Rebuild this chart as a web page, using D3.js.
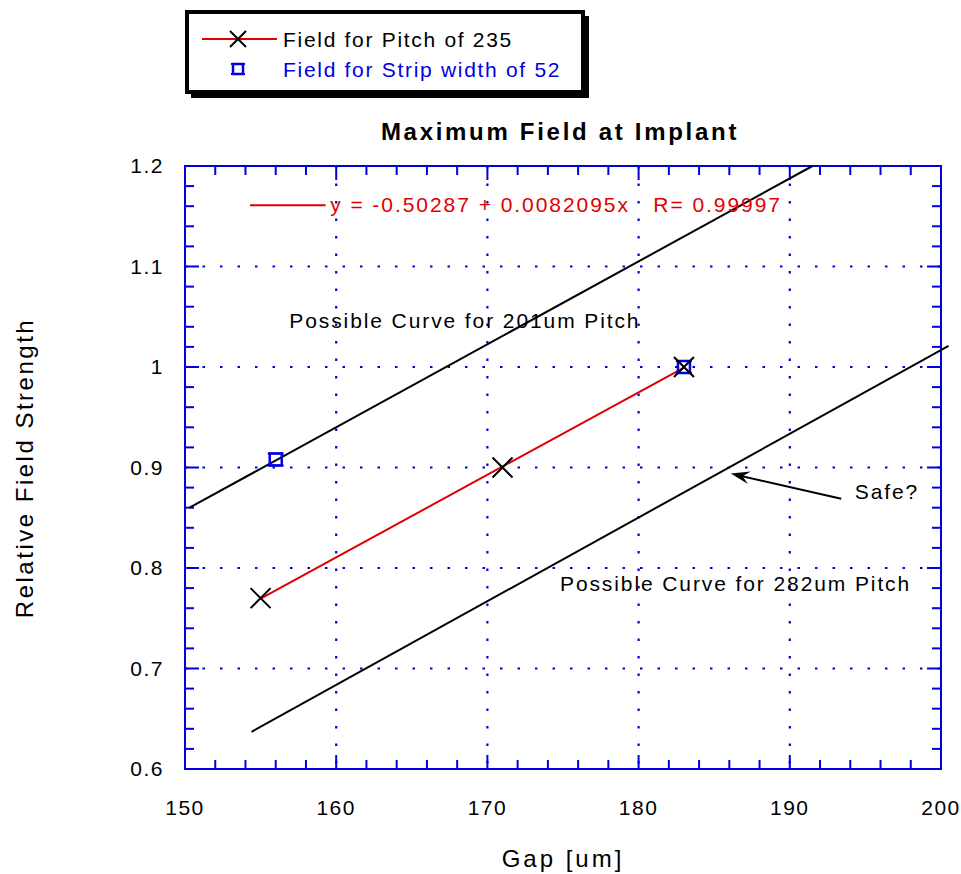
<!DOCTYPE html>
<html>
<head>
<meta charset="utf-8">
<script src="https://cdn.jsdelivr.net/npm/d3@7"></script>
<style>
  body { margin: 0; background: #fff; }
  text { font-family: "Liberation Sans", Arial, sans-serif; }
</style>
</head>
<body>
<div id="chart"></div>
<script>
// data
var pitchGap   = [155, 171, 183]
var pitchField = [0.77, 0.90, 1.00]
var stripGap   = [156, 183]
var stripField = [0.908, 1.00]
var fitIntercept = -0.50287
var fitSlope     = 0.0082095
var fitRange     = [155, 183]
var curve201 = [[150.3, 0.86], [191.5, 1.2]]
var curve282 = [[154.4, 0.637], [200.5, 1.021]]
var xTicks = [150, 160, 170, 180, 190, 200]
var yTicks = [0.6, 0.7, 0.8, 0.9, 1, 1.1, 1.2]

var W = 961, H = 874
var pL = 185, pR = 941, pT = 166, pB = 769

var svg = d3.select('#chart').append('svg').attr('width', W).attr('height', H)

var x = d3.scaleLinear().domain([150, 200]).range([pL, pR])
var y = d3.scaleLinear().domain([0.6, 1.2]).range([pB, pT])

var blue = '#0000e0'
var fs = 21

// grid
svg.append('g').selectAll('line').data(xTicks.slice(1, -1)).join('line')
    .attr('x1', d => x(d)).attr('x2', d => x(d)).attr('y1', pT).attr('y2', pB)
    .attr('stroke', blue).attr('stroke-width', 2.2).attr('stroke-dasharray', '2.5,15')
svg.append('g').selectAll('line').data(yTicks.slice(1, -1)).join('line')
    .attr('y1', d => y(d)).attr('y2', d => y(d)).attr('x1', pL).attr('x2', pR)
    .attr('stroke', blue).attr('stroke-width', 2.2).attr('stroke-dasharray', '2.5,15')

// frame + inward ticks on all sides
var xMinor = d3.range(150, 200.01, 2)
var yMinor = d3.range(0.6, 1.2001, 0.02)
var axes = svg.append('g').attr('stroke', blue).attr('stroke-width', 2)
axes.append('rect').attr('x', pL).attr('y', pT).attr('width', pR - pL).attr('height', pB - pT)
    .attr('fill', 'none')
xMinor.forEach(function(v) {
    var major = Math.abs(v % 10) < 1e-6
    var len = major ? 14 : 9
    axes.append('line').attr('x1', x(v)).attr('x2', x(v)).attr('y1', pB).attr('y2', pB - len)
    axes.append('line').attr('x1', x(v)).attr('x2', x(v)).attr('y1', pT).attr('y2', pT + len)
})
yMinor.forEach(function(v) {
    var major = Math.abs(Math.round(v * 10) - v * 10) < 1e-6
    var len = major ? 14 : 9
    axes.append('line').attr('y1', y(v)).attr('y2', y(v)).attr('x1', pL).attr('x2', pL + len)
    axes.append('line').attr('y1', y(v)).attr('y2', y(v)).attr('x1', pR).attr('x2', pR - len)
})

// tick labels
svg.append('g').selectAll('text').data(xTicks).join('text')
    .attr('x', d => x(d)).attr('y', 815).attr('text-anchor', 'middle')
    .attr('font-size', fs).attr('letter-spacing', 1.5).text(d => d)
svg.append('g').selectAll('text').data(yTicks).join('text')
    .attr('x', 164).attr('y', d => y(d) + 7).attr('text-anchor', 'end')
    .attr('font-size', fs).attr('letter-spacing', 1.5).text(d => d)

// axis titles
svg.append('text').attr('x', 563).attr('y', 867).attr('text-anchor', 'middle')
    .attr('font-size', 24).attr('letter-spacing', 3).text('Gap [um]')
svg.append('text').attr('transform', 'translate(33,468) rotate(-90)').attr('text-anchor', 'middle')
    .attr('font-size', 24).attr('letter-spacing', 2.5).text('Relative Field Strength')
svg.append('text').attr('x', 560).attr('y', 140).attr('text-anchor', 'middle')
    .attr('font-size', 24).attr('font-weight', 'bold').attr('letter-spacing', 2.7)
    .text('Maximum Field at Implant')

// possible curves
var line = d3.line().x(d => x(d[0])).y(d => y(d[1]))
svg.append('path').attr('d', line(curve201)).attr('stroke', '#000').attr('stroke-width', 2).attr('fill', 'none')
svg.append('path').attr('d', line(curve282)).attr('stroke', '#000').attr('stroke-width', 2).attr('fill', 'none')

// fit line
var fitPts = fitRange.map(g => [g, fitIntercept + fitSlope * g])
svg.append('path').attr('d', line(fitPts)).attr('stroke', '#e00000').attr('stroke-width', 2).attr('fill', 'none')

// markers
function cross(g, cx, cy, s) {
    g.append('path').attr('d', `M${cx-s},${cy-s}L${cx+s},${cy+s}M${cx-s},${cy+s}L${cx+s},${cy-s}`)
        .attr('stroke', '#000').attr('stroke-width', 2).attr('fill', 'none')
}
function square(g, cx, cy, s) {
    g.append('rect').attr('x', cx - s).attr('y', cy - s).attr('width', 2 * s).attr('height', 2 * s)
        .attr('stroke', blue).attr('stroke-width', 2.5).attr('fill', 'none')
    g.append('path').attr('d', `M${cx-s-2},${cy-s}H${cx+s+2}M${cx-s-2},${cy+s}H${cx+s+2}`)
        .attr('stroke', blue).attr('stroke-width', 2)
}
var mk = svg.append('g')
stripGap.forEach((g, i) => square(mk, x(g), y(stripField[i]), 6))
pitchGap.forEach((g, i) => cross(mk, x(g), y(pitchField[i]), 10))

// equation label
svg.append('path').attr('d', line([[154.3, 1.161], [159.3, 1.161]])).attr('stroke', '#e00000').attr('stroke-width', 2)
svg.append('text').attr('x', x(159.6)).attr('y', y(1.161) + 7).attr('fill', '#e00000')
    .attr('font-size', fs).attr('letter-spacing', 1.95).attr('xml:space', 'preserve')
    .text('y = -0.50287 + 0.0082095x   R= 0.99997')

// annotations
svg.append('text').attr('x', x(156.9)).attr('y', y(1.046) + 7)
    .attr('font-size', fs).attr('letter-spacing', 1.9).text('Possible Curve for 201um Pitch')
svg.append('text').attr('x', x(174.8)).attr('y', y(0.784) + 7)
    .attr('font-size', fs).attr('letter-spacing', 1.9).text('Possible Curve for 282um Pitch')
svg.append('text').attr('x', x(194.3)).attr('y', y(0.876) + 7)
    .attr('font-size', fs).attr('letter-spacing', 1.9).text('Safe?')

// arrow
var ax0 = x(193.4), ay0 = y(0.869), ax1 = x(186.1), ay1 = y(0.894)
svg.append('line').attr('x1', ax0).attr('y1', ay0).attr('x2', ax1 + 8).attr('y2', ay1 + 2)
    .attr('stroke', '#000').attr('stroke-width', 2)
var ang = Math.atan2(ay1 - ay0, ax1 - ax0)
var hl = 20, hw = 0.32
svg.append('path')
    .attr('d', `M${ax1},${ay1}` +
        `L${ax1 - hl * Math.cos(ang - hw)},${ay1 - hl * Math.sin(ang - hw)}` +
        `L${ax1 - hl * 0.6 * Math.cos(ang)},${ay1 - hl * 0.6 * Math.sin(ang)}` +
        `L${ax1 - hl * Math.cos(ang + hw)},${ay1 - hl * Math.sin(ang + hw)}Z`)
    .attr('fill', '#000')

// legend box with drop shadow
var lg = svg.append('g')
lg.append('rect').attr('x', 191).attr('y', 16).attr('width', 398).attr('height', 82).attr('fill', '#000')
lg.append('rect').attr('x', 187).attr('y', 12).attr('width', 396).attr('height', 80)
    .attr('fill', '#fff').attr('stroke', '#000').attr('stroke-width', 4)
lg.append('line').attr('x1', 202).attr('x2', 277).attr('y1', 39).attr('y2', 39)
    .attr('stroke', '#e00000').attr('stroke-width', 2)
cross(lg, 238, 39, 8)
lg.append('text').attr('x', 283).attr('y', 47).attr('font-size', fs).attr('letter-spacing', 1.7)
    .text('Field for Pitch of 235')
square(lg, 238, 69, 5)
lg.append('text').attr('x', 283).attr('y', 77).attr('font-size', fs).attr('letter-spacing', 1.7)
    .attr('fill', blue).text('Field for Strip width of 52')
</script>
</body>
</html>
